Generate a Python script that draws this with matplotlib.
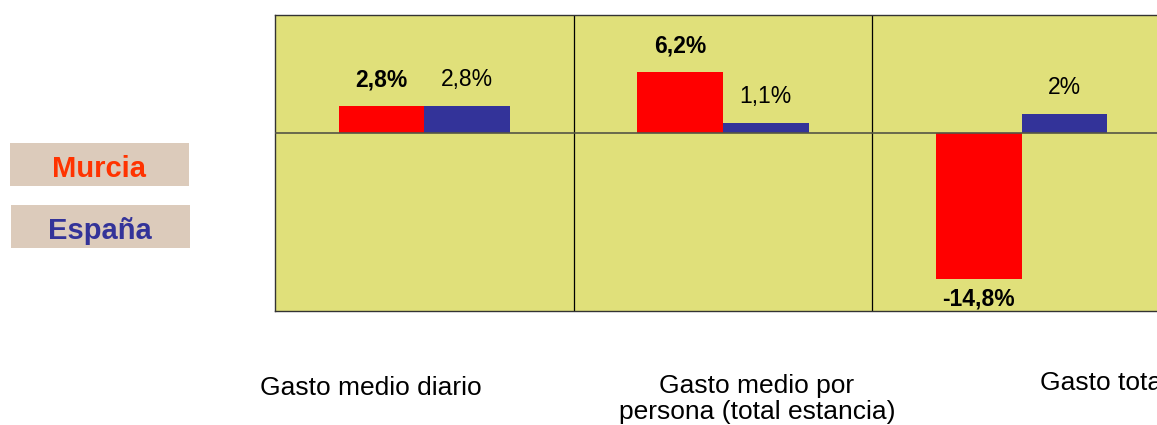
import matplotlib
matplotlib.use('Agg')
import matplotlib.pyplot as plt
import numpy as np

plt.rcParams['font.family'] = ['Liberation Sans', 'DejaVu Sans']

categories = ['Gasto medio diario', 'Gasto medio por\npersona (total estancia)', 'Gasto total']
murcia = [2.8, 6.2, -14.8]
espana = [2.8, 1.1, 2.0]

RED = '#FF0000'
BLUE = '#333399'
BG = '#E0E07A'
TAN = '#DCCBBB'


def fmt(v):
    return f"{v:g}".replace('.', ',') + '%'


fig = plt.figure(figsize=(11.57, 4.25), dpi=100)
W, H = 1157, 425
# axes runs off the right edge, like the reference crop
ax = fig.add_axes([275 / W, 1 - 311 / H, (1171 - 275) / W, (311 - 15) / H])
ax.set_facecolor(BG)

x = np.arange(len(categories))
w = 0.287
b1 = ax.bar(x - w / 2, murcia, w, color=RED, zorder=3)
b2 = ax.bar(x + w / 2, espana, w, color=BLUE, zorder=3)

ax.set_xlim(-0.5, len(categories) - 0.5)
ax.set_ylim(-18, 12)
ax.axhline(0, color='#555544', lw=1.2, zorder=4)
for b in x[:-1] + 0.5:
    ax.axvline(b, color='black', lw=0.9, zorder=2)
ax.set_xticks([]); ax.set_yticks([])
for s in ax.spines.values():
    s.set_color('#333333'); s.set_linewidth(1)

for bars, vals, weight in [(b1, murcia, 'bold'), (b2, espana, 'normal')]:
    for r, v in zip(bars, vals):
        cx = r.get_x() + r.get_width() / 2
        if v >= 0:
            ax.annotate(fmt(v), (cx, v), xytext=(0, 14), textcoords='offset points',
                        ha='center', va='baseline', fontsize=16.5, fontweight=weight)
        else:
            ax.annotate(fmt(v), (cx, v), xytext=(0, -6), textcoords='offset points',
                        ha='center', va='top', fontsize=16.5, fontweight=weight)

# category labels placed like the text boxes in the original
label_pos = [(371, 388), (757, 399), (1104, 383)]
for txt, (px, py) in zip(categories, label_pos):
    fig.text(px / W, 1 - py / H, txt, ha='center', va='center', fontsize=19,
             linespacing=1.12)

# legend boxes
for name, col, (x0, y0) in [('Murcia', '#FF3300', (10, 143)), ('España', BLUE, (11, 205))]:
    fig.patches.append(plt.Rectangle((x0 / W, 1 - (y0 + 43) / H), 179 / W, 43 / H,
                                     transform=fig.transFigure, facecolor=TAN,
                                     edgecolor='none'))
    fig.text((x0 + 89) / W, 1 - (y0 + 26) / H, name, ha='center', va='center',
             fontsize=21, fontweight='bold', color=col)

fig.savefig('out.png', dpi=100, facecolor='white')
